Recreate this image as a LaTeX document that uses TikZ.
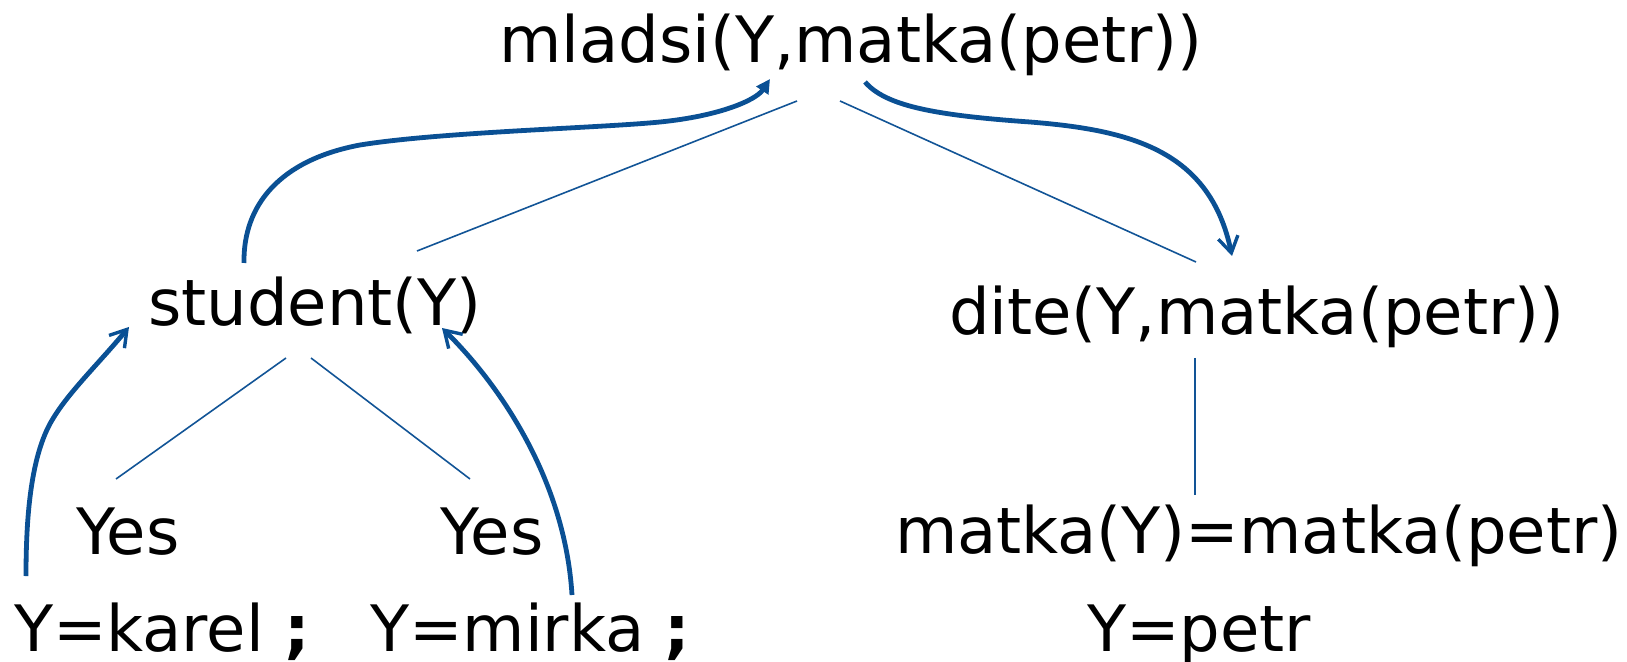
\documentclass[tikz,border=0pt]{standalone}
\usepackage{fontspec}
\setmainfont{DejaVu Sans}
\usetikzlibrary{arrows.meta}
\definecolor{linkblue}{RGB}{18,84,150}
\definecolor{flowblue}{RGB}{10,80,148}
\tikzset{
  term/.style={anchor=base west, inner sep=0pt, outer sep=0pt, font=\fontsize{32}{38}\selectfont},
  branch/.style={draw=linkblue, line width=0.8pt},
  flow/.style={draw=flowblue, line width=2.4pt},
  openhead/.style={-{Straight Barb[length=8pt, width=10pt, line width=1.7pt]}},
  fullhead/.style={-{Triangle[length=7pt, width=7pt]}}
}
\begin{document}
\begin{tikzpicture}[x=0.5pt, y=-0.5pt]
  \useasboundingbox (0,0) rectangle (1627,662);

  % goal tree
  \node[term] (root)   at (499,63)   {mladsi(Y,matka(petr))};
  \node[term] (stud)   at (148,326)  {student(Y)};
  \node[term] (dite)   at (949,335)  {dite(Y,matka(petr))};
  \node[term] (yes1)   at (76,554)   {Yes};
  \node[term] (yes2)   at (440,554)  {Yes};
  \node[term] (eq)     at (895,553)  {matka(Y)=matka(petr)};
  \node[term] (karel)  at (14,651)   {Y=karel {\bfseries ;}};
  \node[term] (mirka)  at (370,651)  {Y=mirka {\bfseries ;}};
  \node[term] (petr)   at (1087,651) {Y=petr};

  % ends of the tree branches
  \coordinate (rootL)  at (797,101);
  \coordinate (rootR)  at (840,101);
  \coordinate (studT)  at (417,251);
  \coordinate (diteT)  at (1196,262);
  \coordinate (studL)  at (286,358);
  \coordinate (studR)  at (311,358);
  \coordinate (yes1T)  at (116,479);
  \coordinate (yes2T)  at (470,479);
  \coordinate (diteB)  at (1195,358);
  \coordinate (eqT)    at (1195,495);

  \draw[branch] (rootL) -- (studT);
  \draw[branch] (rootR) -- (diteT);
  \draw[branch] (studL) -- (yes1T);
  \draw[branch] (studR) -- (yes2T);
  \draw[branch] (diteB) -- (eqT);

  % ends of the flow arrows
  \coordinate (studUp)  at (244,263);
  \coordinate (rootIn)  at (770,79);
  \coordinate (rootOut) at (865,82);
  \coordinate (diteIn)  at (1232,256);
  \coordinate (karelUp) at (26,576);
  \coordinate (studInL) at (129,327);
  \coordinate (mirkaUp) at (572,595);
  \coordinate (studInR) at (442,328);

  % control flow of the resolution
  \draw[flow, fullhead] (studUp) .. controls (243,205) and (280,160) .. (360,145)
        .. controls (440,132) and (600,128) .. (660,122)
        .. controls (720,116) and (756,100) .. (rootIn);
  \draw[flow, openhead] (rootOut) .. controls (885,105) and (930,115) .. (1030,122)
        .. controls (1130,130) and (1210,150) .. (diteIn);
  \draw[flow, openhead] (karelUp) .. controls (26,510) and (32,451) .. (54,417)
        .. controls (70,391) and (100,362) .. (studInL);
  \draw[flow, openhead] (mirkaUp) .. controls (565,480) and (500,385) .. (studInR);
\end{tikzpicture}
\end{document}
